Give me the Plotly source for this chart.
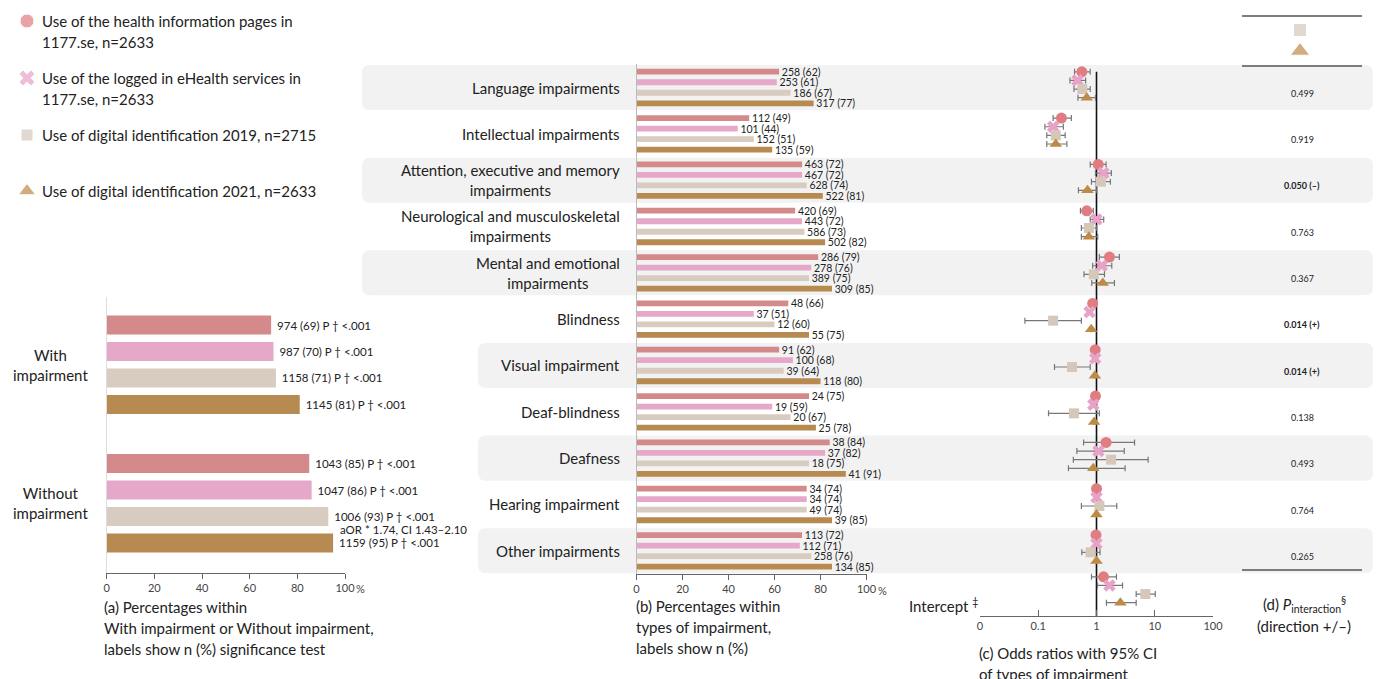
import plotly.graph_objects as go

W, H = 1384, 679

# ---------------- data ----------------
series_names = [
    "Use of the health information pages in<br>1177.se, n=2633",
    "Use of the logged in eHealth services in<br>1177.se, n=2633",
    "Use of digital identification 2019, n=2715",
    "Use of digital identification 2021, n=2633",
]
group_labels = ["With<br>impairment", "Without<br>impairment"]
group_pct = [[69, 85], [70, 86], [71, 93], [81, 95]]
group_n = [[974, 1043], [987, 1047], [1158, 1006], [1145, 1159]]
group_sig = "P † &lt;.001"
aor_note = "aOR * 1.74, CI 1.43–2.10"

categories = [
    "Language impairments",
    "Intellectual impairments",
    "Attention, executive and memory<br>impairments",
    "Neurological and musculoskeletal<br>impairments",
    "Mental and emotional<br>impairments",
    "Blindness",
    "Visual impairment",
    "Deaf-blindness",
    "Deafness",
    "Hearing impairment",
    "Other impairments",
]
type_pct = [
    [62, 49, 72, 69, 79, 66, 62, 75, 84, 74, 72],
    [61, 44, 72, 72, 76, 51, 68, 59, 82, 74, 71],
    [67, 51, 74, 73, 75, 60, 64, 67, 75, 74, 76],
    [77, 59, 81, 82, 85, 75, 80, 78, 91, 85, 85],
]
type_n = [
    [258, 112, 463, 420, 286, 48, 91, 24, 38, 34, 113],
    [253, 101, 467, 443, 278, 37, 100, 19, 37, 34, 112],
    [186, 152, 628, 586, 389, 12, 39, 20, 18, 49, 258],
    [317, 135, 522, 502, 309, 55, 118, 25, 41, 39, 134],
]
intercept_label = "Intercept <sup>‡</sup>"
or_est = [
    [0.56, 0.25, 1.07, 0.68, 1.67, 0.86, 0.95, 0.96, 1.46, 1.00, 0.98, 1.32],
    [0.47, 0.18, 1.32, 1.00, 1.23, 0.76, 0.95, 0.88, 1.08, 1.00, 1.00, 1.67],
    [0.57, 0.20, 1.19, 0.74, 0.90, 0.18, 0.38, 0.41, 1.78, 1.12, 0.79, 6.90],
    [0.68, 0.20, 0.70, 0.74, 1.28, 0.81, 0.94, 0.91, 0.88, 1.00, 1.00, 2.57],
]
or_low = [
    [0.42, 0.18, 0.78, 0.53, 1.12, 0.86, 0.95, 0.96, 0.60, 1.00, 0.98, 0.82],
    [0.35, 0.13, 0.96, 0.78, 0.86, 0.76, 0.95, 0.88, 0.46, 1.00, 1.00, 1.04],
    [0.41, 0.14, 0.82, 0.55, 0.61, 0.059, 0.19, 0.15, 0.40, 0.55, 0.56, 4.80],
    [0.48, 0.14, 0.49, 0.55, 0.83, 0.81, 0.94, 0.91, 0.33, 1.00, 1.00, 1.48],
]
or_high = [
    [0.78, 0.37, 1.46, 0.88, 2.47, 0.86, 0.95, 0.96, 4.50, 1.00, 0.98, 2.20],
    [0.65, 0.27, 1.80, 1.33, 1.83, 0.76, 0.95, 0.88, 3.00, 1.00, 1.00, 2.80],
    [0.78, 0.29, 1.73, 1.01, 1.37, 0.55, 0.78, 1.12, 7.70, 2.23, 1.15, 10.2],
    [0.96, 0.31, 1.01, 1.05, 2.03, 0.81, 0.94, 0.91, 3.10, 1.00, 1.00, 4.80],
]
p_interaction = ["0.499", "0.919", "0.050 (–)", "0.763", "0.367", "0.014 (+)",
                 "0.014 (+)", "0.138", "0.493", "0.764", "0.265"]
p_significant = [False, False, True, False, False, True, True, False, False, False, False]
pct_ticks = [0, 20, 40, 60, 80, 100]
or_ticks = [0.01, 0.1, 1, 10, 100]
or_ticktext = ["0", "0.1", "1", "10", "100"]
caption_a = ["(a) Percentages within", "With impairment or Without impairment,",
             "labels show n (%) significance test"]
caption_b = ["(b) Percentages within", "types of impairment,", "labels show n (%)"]
caption_c = ["(c) Odds ratios with 95% CI", "of types of impairment"]
caption_d = ["(d) <i>P</i><sub>interaction</sub><sup>§</sup>", "(direction +/–)"]

# ---------------- style ----------------
FONT = "Lato"
TXT = "#222222"
bar_colors = ["#D48A8B", "#E6A8C9", "#D8CBBF", "#B68A50"]
mk_colors = ["#E07D82", "#E8A2C7", "#D5C8BB", "#BE8B47"]
mk_symbols = ["circle", "x", "square", "triangle-up"]
mk_sizes = [11, 11, 10, 11]
BAND = "#F2F2F2"
PAD = "\u00a0"


def fx(p):
    return p / W


def fy(p):
    return 1 - p / H


# geometry (pixels)
A_X0, A_X1, A_TOP, A_BOT = 106.7, 345, 297, 573
A_G0, A_GP = 364.75, 138.5
B_X0, B_X1 = 636.5, 866.5
ROW0, ROWP = 87.5, 46.33
B_TOP, B_BOT = 64, 574
C_X0, C_X1, C_BOT = 980, 1213, 616

a_step, a_w = 0.191, 0.137
b_step, b_w = 0.227, 0.125
m_step, m_c = 0.186, -0.06
intercept_row = 10.9

fig = go.Figure()

# ---- panel (a) bars ----
for k in range(4):
    fig.add_trace(go.Bar(
        x=group_pct[k],
        y=[g + (k - 1.5) * a_step for g in range(len(group_labels))],
        width=a_w, orientation="h",
        marker=dict(color=bar_colors[k], line=dict(width=0)),
        text=[f"{PAD}{n} ({p}) {group_sig}" for n, p in zip(group_n[k], group_pct[k])],
        textposition="outside", constraintext="none", cliponaxis=False,
        outsidetextfont=dict(size=11.5, color=TXT, family=FONT),
        xaxis="x", yaxis="y", showlegend=False, hoverinfo="skip",
    ))

# ---- panel (b) bars ----
for k in range(4):
    fig.add_trace(go.Bar(
        x=type_pct[k],
        y=[i + (k - 1.5) * b_step for i in range(len(categories))],
        width=b_w, orientation="h",
        marker=dict(color=bar_colors[k], line=dict(width=0)),
        text=[f"{PAD}{n} ({p})" for n, p in zip(type_n[k], type_pct[k])],
        textposition="outside", constraintext="none", cliponaxis=False,
        outsidetextfont=dict(size=10.5, color=TXT, family=FONT),
        xaxis="x2", yaxis="y2", showlegend=False, hoverinfo="skip",
    ))

# ---- panel (c) odds ratios ----
rows_c = list(range(len(categories))) + [intercept_row]
fig.add_trace(go.Scatter(
    x=[1, 1], y=[-0.34, (C_BOT - ROW0) / ROWP], mode="lines",
    line=dict(color="#111111", width=1.6), xaxis="x3", yaxis="y3",
    showlegend=False, hoverinfo="skip",
))
for k in range(4):
    fig.add_trace(go.Scatter(
        x=or_est[k],
        y=[r + m_c + (k - 1.5) * m_step for r in rows_c],
        mode="markers",
        marker=dict(symbol=mk_symbols[k], size=mk_sizes[k], color=mk_colors[k],
                    line=dict(width=0)),
        error_x=dict(type="data", symmetric=False,
                     array=[h - e for h, e in zip(or_high[k], or_est[k])],
                     arrayminus=[e - l for e, l in zip(or_est[k], or_low[k])],
                     color="#777777", thickness=1.2, width=3),
        xaxis="x3", yaxis="y3", name=series_names[k], showlegend=False,
        cliponaxis=False,
    ))

# ---- legend & header symbols on a pixel canvas axis ----
legend_y = [21, 78, 135, 191]
fig.add_trace(go.Scatter(
    x=[27] * 4, y=legend_y, mode="markers",
    marker=dict(symbol=mk_symbols, size=[14, 14, 12, 15], color=mk_colors),
    xaxis="x4", yaxis="y4", showlegend=False, hoverinfo="skip",
))
fig.add_trace(go.Scatter(
    x=[1300, 1300], y=[30, 51], mode="markers",
    marker=dict(symbol=mk_symbols[2:], size=[13, 17], color=mk_colors[2:]),
    xaxis="x4", yaxis="y4", showlegend=False, hoverinfo="skip",
))

annotations = []
shapes = []

# legend texts
for name, yc in zip(series_names, legend_y):
    for j, line in enumerate(name.split("<br>")):
        annotations.append(dict(
            x=fx(40), y=fy(yc + 21 * j), xref="paper", yref="paper",
            text=line, showarrow=False, xanchor="left", yanchor="middle",
            font=dict(size=15, color=TXT, family=FONT)))

# group labels panel (a)
for g, lab in enumerate(group_labels):
    annotations.append(dict(
        x=fx(50), y=g, xref="paper", yref="y", text=lab, showarrow=False,
        xanchor="center", yanchor="middle", align="center",
        font=dict(size=15, color=TXT, family=FONT)))
annotations.append(dict(
    x=group_pct[3][1], y=1 + 1.5 * a_step, xref="x", yref="y", text=aor_note,
    showarrow=False, xanchor="left", yanchor="middle", xshift=5, yshift=13,
    font=dict(size=11.5, color=TXT, family=FONT)))

# category labels panel (b)
for i, lab in enumerate(categories):
    annotations.append(dict(
        x=fx(622), y=i, xref="paper", yref="y2", text=lab, showarrow=False,
        xanchor="right", yanchor="middle", align="center",
        font=dict(size=15, color=TXT, family=FONT)))

# p interaction column (d)
for i, (p, sig) in enumerate(zip(p_interaction, p_significant)):
    annotations.append(dict(
        x=fx(1302), y=i + 0.12, xref="paper", yref="y2",
        text=f"<b>{p}</b>" if sig else p, showarrow=False,
        xanchor="center", yanchor="middle",
        font=dict(size=9, color=TXT, family=FONT)))

# intercept label
annotations.append(dict(
    x=fx(907), y=fy(605), xref="paper", yref="paper", text=intercept_label,
    showarrow=False, xanchor="left", yanchor="middle",
    font=dict(size=15, color=TXT, family=FONT)))

# "%" after 100 ticks
for xr, ypx in (("x", 588), ("x2", 590)):
    annotations.append(dict(
        x=100, y=fy(ypx), xref=xr, yref="paper", text="%", showarrow=False,
        xanchor="left", yanchor="middle", xshift=9,
        font=dict(size=11, color="#444444", family=FONT)))

# captions
for lines, x0, y0 in ((caption_a, 102, 607), (caption_b, 634, 606), (caption_c, 977, 653)):
    for j, line in enumerate(lines):
        annotations.append(dict(
            x=fx(x0), y=fy(y0 + 21 * j), xref="paper", yref="paper", text=line,
            showarrow=False, xanchor="left", yanchor="middle",
            font=dict(size=15, color=TXT, family=FONT)))
for j, line in enumerate(caption_d):
    annotations.append(dict(
        x=fx(1304), y=fy(604 + 22 * j), xref="paper", yref="paper", text=line,
        showarrow=False, xanchor="center", yanchor="middle",
        font=dict(size=15, color=TXT, family=FONT)))

# row bands (rounded)
band_left = {0: 362, 2: 362, 4: 362, 6: 478, 8: 478, 10: 478}
rx, ry = 8 / W, 8 / ROWP
for i, xl in band_left.items():
    x0, x1 = fx(xl), fx(1373)
    y0, y1 = i - 0.486, i + 0.486
    path = (f"M {x0+rx},{y0} L {x1-rx},{y0} Q {x1},{y0} {x1},{y0+ry} "
            f"L {x1},{y1-ry} Q {x1},{y1} {x1-rx},{y1} L {x0+rx},{y1} "
            f"Q {x0},{y1} {x0},{y1-ry} L {x0},{y0+ry} Q {x0},{y0} {x0+rx},{y0} Z")
    shapes.append(dict(type="path", path=path, xref="paper", yref="y2",
                       fillcolor=BAND, line=dict(width=0), layer="below"))

# header / footer rules of column (d)
for ypx in (16, 66, 570):
    shapes.append(dict(type="line", xref="paper", yref="paper",
                       x0=fx(1242), x1=fx(1362), y0=fy(ypx), y1=fy(ypx),
                       line=dict(color="#555555", width=1.3)))

tickfont = dict(size=11, color="#444444", family=FONT)

fig.update_layout(
    autosize=True, margin=dict(l=0, r=0, t=0, b=0, autoexpand=False),
    paper_bgcolor="white", plot_bgcolor="rgba(0,0,0,0)",
    font=dict(family=FONT, color=TXT),
    barmode="overlay", showlegend=False,
    annotations=annotations, shapes=shapes,
    xaxis=dict(domain=[fx(A_X0), fx(A_X1)], range=[0, 100], anchor="y",
               tickvals=pct_ticks, ticktext=[str(t) for t in pct_ticks],
               ticks="outside", ticklen=5, tickcolor="#666666",
               showline=True, linecolor="#666666", linewidth=1,
               showgrid=False, zeroline=False, tickfont=tickfont),
    yaxis=dict(domain=[fy(A_BOT), fy(A_TOP)],
               range=[(A_BOT - A_G0) / A_GP, (A_TOP - A_G0) / A_GP], anchor="x",
               showticklabels=False, ticks="", showline=True, linecolor="#DDDDDD",
               showgrid=False, zeroline=False),
    xaxis2=dict(domain=[fx(B_X0), fx(B_X1)], range=[0, 100], anchor="y2",
                tickvals=pct_ticks, ticktext=[str(t) for t in pct_ticks],
                ticks="outside", ticklen=5, tickcolor="#666666",
                showline=True, linecolor="#666666", linewidth=1,
                showgrid=False, zeroline=False, tickfont=tickfont),
    yaxis2=dict(domain=[fy(B_BOT), fy(B_TOP)],
                range=[(B_BOT - ROW0) / ROWP, (B_TOP - ROW0) / ROWP], anchor="x2",
                showticklabels=False, ticks="", showline=True, linecolor="#BBBBBB",
                showgrid=False, zeroline=False),
    xaxis3=dict(domain=[fx(C_X0), fx(C_X1)], type="log", range=[-2, 2], anchor="y3",
                tickvals=or_ticks, ticktext=or_ticktext,
                ticks="inside", ticklen=6, tickcolor="#666666",
                showline=True, linecolor="#666666", linewidth=1.2,
                showgrid=False, zeroline=False, tickfont=tickfont),
    yaxis3=dict(domain=[fy(C_BOT), fy(B_TOP)],
                range=[(C_BOT - ROW0) / ROWP, (B_TOP - ROW0) / ROWP], anchor="x3",
                visible=False, showgrid=False, zeroline=False),
    xaxis4=dict(domain=[0, 1], range=[0, W], visible=False, anchor="y4"),
    yaxis4=dict(domain=[0, 1], range=[H, 0], visible=False, anchor="x4"),
)

fig.write_html("out.html", default_width="100%", default_height="100vh")
